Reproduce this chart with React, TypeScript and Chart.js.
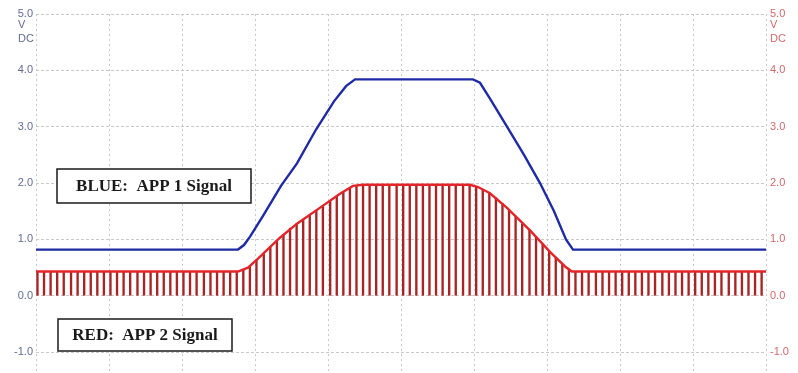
import React, { useEffect, useRef } from "react";
import { Chart, registerables } from "chart.js";

Chart.register(...registerables);

// Time axis: 0..100 (10 divisions, no labels)
const blueX = [0, 27.67, 28.49, 29.32, 31.1, 33.56, 35.75, 38.36, 40.82, 42.47, 43.7, 59.86, 60.82, 62.19, 64.52, 66.85, 69.04, 70.96, 72.6, 73.56, 100];
const blueY = [0.82, 0.82, 0.9, 1.05, 1.42, 1.95, 2.35, 2.95, 3.45, 3.72, 3.84, 3.84, 3.78, 3.5, 3.0, 2.5, 2.0, 1.5, 1.0, 0.82, 0.82];

const redX = [0, 27.67, 29.04, 30.41, 33.42, 35.75, 39.32, 41.64, 43.42, 44.79, 59.45, 60.55, 62.19, 64.52, 67.67, 70.41, 72.47, 73.42, 100];
const redY = [0.43, 0.43, 0.5, 0.66, 1.03, 1.28, 1.6, 1.81, 1.95, 1.97, 1.97, 1.93, 1.82, 1.56, 1.16, 0.78, 0.52, 0.43, 0.43];

const pulseX = [
  0.2, 1.1, 2.0, 2.9, 3.8, 4.8, 5.7, 6.6, 7.5, 8.4, 9.3, 10.2, 11.1, 12.0, 12.9, 13.9, 14.8, 15.7, 16.6, 17.5,
  18.4, 19.3, 20.2, 21.1, 22.0, 23.0, 23.9, 24.8, 25.7, 26.6, 27.5, 28.4, 29.3, 30.2, 31.2, 32.1, 33.0, 33.9,
  34.8, 35.7, 36.6, 37.5, 38.4, 39.3, 40.3, 41.2, 42.1, 43.0, 43.9, 44.8, 45.7, 46.6, 47.5, 48.4, 49.4, 50.3,
  51.2, 52.1, 53.0, 53.9, 54.8, 55.7, 56.6, 57.5, 58.5, 59.4, 60.3, 61.2, 62.1, 63.0, 63.9, 64.8, 65.7, 66.6,
  67.6, 68.5, 69.4, 70.3, 71.2, 72.1, 73.0, 73.9, 74.8, 75.7, 76.7, 77.6, 78.5, 79.4, 80.3, 81.2, 82.1, 83.0,
  83.9, 84.8, 85.8, 86.7, 87.6, 88.5, 89.4, 90.3, 91.2, 92.1, 93.0, 93.9, 94.9, 95.8, 96.7, 97.6, 98.5, 99.4,
];
const pulseTop = [
  0.43, 0.43, 0.43, 0.43, 0.43, 0.43, 0.43, 0.43, 0.43, 0.43, 0.43, 0.43, 0.43, 0.43, 0.43, 0.43, 0.43, 0.43, 0.43, 0.43,
  0.43, 0.43, 0.43, 0.43, 0.43, 0.43, 0.43, 0.43, 0.43, 0.43, 0.43, 0.47, 0.53, 0.63, 0.75, 0.87, 0.98, 1.09,
  1.2, 1.28, 1.36, 1.44, 1.52, 1.6, 1.69, 1.77, 1.85, 1.92, 1.96, 1.97, 1.97, 1.97, 1.97, 1.97, 1.97, 1.97,
  1.97, 1.97, 1.97, 1.97, 1.97, 1.97, 1.97, 1.97, 1.97, 1.97, 1.94, 1.88, 1.82, 1.74, 1.64, 1.52, 1.4, 1.28,
  1.17, 1.04, 0.92, 0.79, 0.67, 0.56, 0.47, 0.43, 0.43, 0.43, 0.43, 0.43, 0.43, 0.43, 0.43, 0.43, 0.43, 0.43,
  0.43, 0.43, 0.43, 0.43, 0.43, 0.43, 0.43, 0.43, 0.43, 0.43, 0.43, 0.43, 0.43, 0.43, 0.43, 0.43, 0.43, 0.43,
];

const yTicks = [-1, 0, 1, 2, 3, 4, 5];
const unitLines = ["V", "DC"];
const blueLabel = "BLUE:  APP 1 Signal";
const redLabel = "RED:  APP 2 Signal";

const LEFT_COLOR = "#5f6b96";
const RIGHT_COLOR = "#d46a6a";
const GRID = "#c9c9c9";

export default function App() {
  const ref = useRef<HTMLCanvasElement | null>(null);

  useEffect(() => {
    if (!ref.current) return;

    const overlay = {
      id: "overlay",
      afterDraw(chart: any) {
        const ctx = chart.ctx;
        const yScale = chart.scales.y;
        const area = chart.chartArea;
        const top = yScale.getPixelForValue(5);
        ctx.save();
        ctx.font = '11px "Liberation Sans"';
        ctx.textBaseline = "middle";
        ctx.fillStyle = LEFT_COLOR;
        ctx.textAlign = "left";
        ctx.fillText(unitLines[0], 18, top + 11);
        ctx.fillText(unitLines[1], 18, top + 25);
        ctx.fillStyle = RIGHT_COLOR;
        ctx.fillText(unitLines[0], area.right + 4, top + 11);
        ctx.fillText(unitLines[1], area.right + 4, top + 25);

        const boxes = [
          { text: blueLabel, x: 57, y: 169, w: 194, h: 34 },
          { text: redLabel, x: 58, y: 319, w: 174, h: 32 },
        ];
        ctx.font = 'bold 17px "Liberation Serif"';
        ctx.textAlign = "center";
        for (const b of boxes) {
          ctx.fillStyle = "#ffffff";
          ctx.fillRect(b.x, b.y, b.w, b.h);
          ctx.strokeStyle = "#1a1a1a";
          ctx.lineWidth = 1.5;
          ctx.strokeRect(b.x, b.y, b.w, b.h);
          ctx.fillStyle = "#1a1a1a";
          ctx.fillText(b.text, b.x + b.w / 2, b.y + b.h / 2 + 1);
        }
        ctx.restore();
      },
    };

    const noPad = (s: any) => {
      s.paddingTop = 0;
      s.paddingBottom = 0;
      s.paddingLeft = 0;
      s.paddingRight = 0;
    };

    const chart = new Chart(ref.current, {
      type: "line",
      data: {
        datasets: [
          {
            label: "APP 1",
            data: blueX.map((x, i) => ({ x, y: blueY[i] })),
            borderColor: "#1f2aa6",
            borderWidth: 2.4,
            pointRadius: 0,
            tension: 0,
            yAxisID: "y",
            order: 1,
          },
          {
            label: "APP 2",
            data: redX.map((x, i) => ({ x, y: redY[i] })),
            borderColor: "#e3252a",
            borderWidth: 2.4,
            pointRadius: 0,
            tension: 0,
            yAxisID: "y",
            order: 2,
          },
          {
            type: "bar",
            label: "APP 2 pulses",
            data: pulseX.map((x, i) => ({ x, y: pulseTop[i] })),
            backgroundColor: "#a92424",
            borderWidth: 0,
            barThickness: 1.7,
            yAxisID: "y",
            order: 3,
          } as any,
        ],
      },
      options: {
        responsive: false,
        animation: false,
        devicePixelRatio: 1,
        layout: { padding: { top: 14, left: 0, right: 0, bottom: 0 } },
        plugins: { legend: { display: false }, tooltip: { enabled: false } },
        scales: {
          x: {
            type: "linear",
            min: 0,
            max: 100,
            offset: false,
            ticks: { display: false, stepSize: 10 },
            grid: { color: GRID, drawTicks: false, tickLength: 0, offset: false },
            border: { display: false, dash: [2, 3] },
            afterFit(s: any) {
              s.height = 0;
              noPad(s);
            },
          } as any,
          y: {
            position: "left",
            min: -1.37,
            max: 5,
            afterBuildTicks(s: any) {
              s.ticks = yTicks.map((v) => ({ value: v }));
            },
            afterFit(s: any) {
              s.width = 36;
              noPad(s);
            },
            ticks: {
              color: LEFT_COLOR,
              font: { family: "Liberation Sans", size: 11 },
              padding: 3,
              callback: (v: any) => Number(v).toFixed(1),
            },
            grid: { color: GRID, drawTicks: false, tickLength: 0 },
            border: { display: false, dash: [3, 2] },
          } as any,
          y2: {
            position: "right",
            min: -1.37,
            max: 5,
            afterBuildTicks(s: any) {
              s.ticks = yTicks.map((v) => ({ value: v }));
            },
            afterFit(s: any) {
              s.width = 32;
              noPad(s);
            },
            ticks: {
              color: RIGHT_COLOR,
              font: { family: "Liberation Sans", size: 11 },
              padding: 4,
              callback: (v: any) => Number(v).toFixed(1),
            },
            grid: { display: false, drawTicks: false },
            border: { display: false },
          } as any,
        },
      },
      plugins: [overlay],
    });

    return () => chart.destroy();
  }, []);

  return (
    <div style={{ position: "absolute", left: 0, top: 0, width: 798, height: 373 }}>
      <canvas ref={ref} width={798} height={373} />
    </div>
  );
}
